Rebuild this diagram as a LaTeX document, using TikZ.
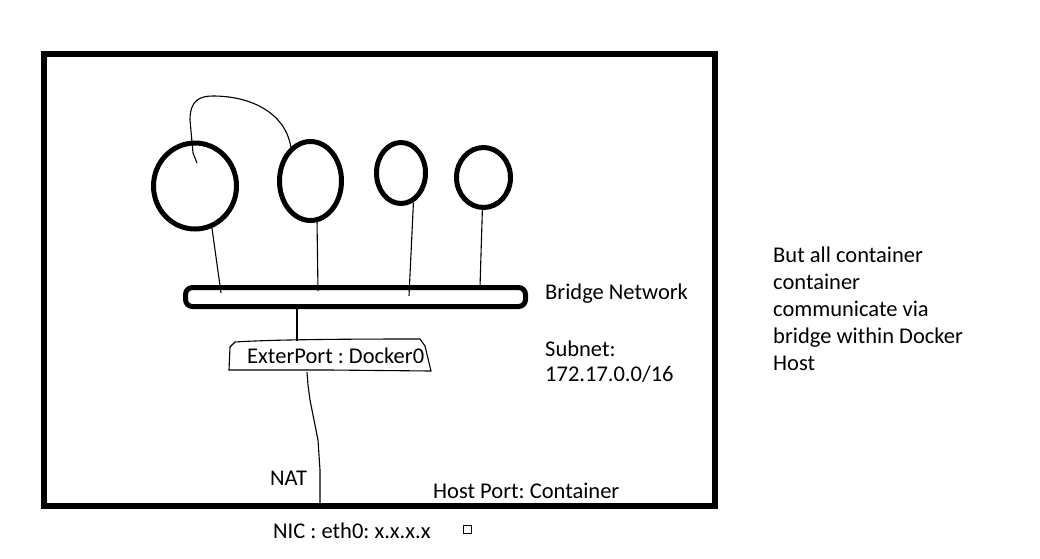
\documentclass[tikz,border=0pt]{standalone}
\usepackage{fontspec}
\setmainfont{Carlito}
\usepackage{tikz}
\usetikzlibrary{shapes.geometric,positioning}
\frenchspacing

\begin{document}
\begin{tikzpicture}[x=1pt,y=-1pt,font=\fontsize{22.5}{27}\selectfont,
		ctr/.style={draw,ellipse,line width=5pt,inner sep=0pt},
		frame/.style={draw,line width=6pt,inner sep=0pt},
		bar/.style={draw,rounded corners=7pt,line width=5pt,inner sep=0pt,minimum width=340pt,minimum height=19pt},
		wire/.style={line width=1.1pt},
		lbl/.style={anchor=base west,inner sep=0pt,align=left}]
			\useasboundingbox (0,0) rectangle (1040,558);
			\node[frame,minimum width=671pt,minimum height=452pt] (host) at (379.5,280) {};
			\node[ctr,minimum width=83pt,minimum height=86pt] (c1) at (195,186) {};
			\node[ctr,minimum width=62pt,minimum height=79pt] (c2) at (310.5,181) {};
			\node[ctr,minimum width=49pt,minimum height=61pt] (c3) at (401,173) {};
			\node[ctr,minimum width=54pt,minimum height=60pt] (c4) at (483.5,177.5) {};
			\node[bar] (bar) at (355.5,297) {};

			\node[lbl] (brn) at (545,299) {Bridge Network};
			\node[lbl] (sub) at (545,356) {Subnet:};
			\node[lbl] (ip) at (545,381) {172.17.0.0/16};
			\node[lbl] (ext) at (247,363) {ExterPort : Docker0};
			\node[lbl] (nat) at (270,485) {NAT};
			\node[lbl] (hp) at (433,498) {Host Port: Container};
			\node[lbl] (nic) at (273,538) {NIC : eth0: x.x.x.x};
			\node[draw,line width=1pt,minimum size=8pt,inner sep=0pt] (sq) at (467.5,529.5) {};
			\node[lbl] (note) at (773,370) {But all container\\container\\communicate via\\bridge within Docker\\Host};

			\coordinate (extin) at (297,341);
			\coordinate (extout) at (307,372);
			\coordinate (natin) at (320,470);

			% hand drawn box round docker0
			\draw[wire] (229,370) -- (230,347) -- (235,342) .. controls (280,339) and (380,339) .. (420,339) -- (425,346) -- (431,371) -- (330,370) -- cycle;

			\draw[wire] (c1.-68) -- ([shift={(-134.5,-4)}]bar.center);
			\draw[wire] (c2.-81) -- ([shift={(-37.5,-6)}]bar.center);
			\draw[wire] (c3.-67) -- ([shift={(53.5,-1)}]bar.center);
			\draw[wire] (c4.-92) -- ([shift={(124.5,-10)}]bar.center);
			\draw[wire] ([shift={(2,-23)}]c1.center) -- ++(-4,-10) -- (190,120) .. controls (190,100) and (200,96) .. (213,96) .. controls (250,96) and (285,112) .. (c2.120);
			\draw[wire] (bar.south -| extin) -- (extin);
			\draw[wire] (extout) -- (308,385) -- (310,400) -- (318,440) -- (natin) -- (natin |- host.south);
\end{tikzpicture}
\end{document}
